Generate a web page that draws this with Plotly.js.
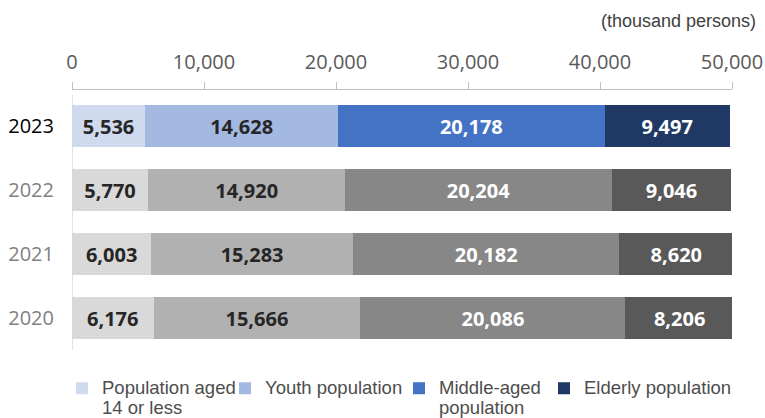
<!DOCTYPE html>
<html><head><meta charset="utf-8">
<script src="https://cdn.plot.ly/plotly-3.0.1.min.js"></script>
<style>html,body{margin:0;padding:0;background:#fff}</style>
</head><body><div id="chart" style="width:765px;height:418px"></div>
<script>
// ---- data ----
const years = ['2023', '2022', '2021', '2020'];
const seriesNames = ['Population aged<br>14 or less', 'Youth population', 'Middle-aged<br>population', 'Elderly population'];
const aged14OrLess = [5536, 5770, 6003, 6176];
const youthPop = [14628, 14920, 15283, 15666];
const middleAgedPop = [20178, 20204, 20182, 20086];
const elderlyPop = [9497, 9046, 8620, 8206];
const xTickValues = [0, 10000, 20000, 30000, 40000, 50000];
const unitLabel = '(thousand persons)';

// ---- styles ----
const highlightColors = ['#cfdaef', '#a3b9e1', '#4472c4', '#1f3864'];
const grayColors = ['#d9d9d9', '#b1b1b1', '#878787', '#595959'];
const textColors = ['#262626', '#262626', '#ffffff', '#ffffff'];
const yearColors = {'2023': '#000000'};
const legendTextStart = [103, 266, 440, 585];
const legendIds = ['legend', 'legend2', 'legend3', 'legend4'];
const seriesValues = [aged14OrLess, youthPop, middleAgedPop, elderlyPop];

const traces = seriesValues.map((vals, i) => ({
  type: 'bar',
  orientation: 'h',
  y: years,
  x: vals,
  legend: legendIds[i],
  name: seriesNames[i].split('<br>').map(s => '<span style="font-size:18.5px">' + s + '</span>').join('<br>'),
  marker: {color: years.map(y => y === '2023' ? highlightColors[i] : grayColors[i]), line: {width: 0}},
  texttemplate: '%{x:,}',
  textposition: 'inside',
  insidetextanchor: 'middle',
  constraintext: 'none',
  textfont: {family: 'Open Sans', size: 20, weight: 700, color: textColors[i]},
  hoverinfo: 'skip'
}));

const layout = {
  width: 765, height: 418,
  margin: {l: 72, r: 33, t: 90, b: 68},
  paper_bgcolor: '#ffffff', plot_bgcolor: '#ffffff',
  barmode: 'stack',
  bargap: 0.34,
  showlegend: true,
  xaxis: {
    side: 'top', range: [0, 50000], fixedrange: true,
    tickvals: xTickValues, tickformat: ',d',
    ticks: 'outside', ticklen: 7, tickcolor: '#bfbfbf', tickwidth: 1,
    showline: true, linecolor: '#bfbfbf', linewidth: 1,
    showgrid: false, zeroline: false,
    ticklabelstandoff: 5,
    tickfont: {family: 'Open Sans', size: 20, color: '#595959'}
  },
  yaxis: {
    type: 'category', range: [3.5, -0.5625], fixedrange: true,
    tickvals: years,
    ticktext: years.map(y => '<span style="color:' + (yearColors[y] || '#808080') + '">' + y + '</span>'),
    ticks: '', showline: false, showgrid: false, zeroline: false,
    ticklabelstandoff: 17,
    tickfont: {family: 'Open Sans', size: 20, color: '#808080'}
  },
  shapes: [{
    type: 'line', xref: 'x', yref: 'paper', x0: 0, x1: 0, y0: 0, y1: (350 - 95) / 260,
    line: {color: '#d9d9d9', width: 1.5}, layer: 'below'
  }],
  annotations: [{
    text: unitLabel, xref: 'paper', yref: 'paper',
    x: (758 - 72) / 660, xanchor: 'right', y: (350 - 21) / 260, yanchor: 'middle',
    showarrow: false,
    font: {family: 'Liberation Sans, Arial, sans-serif', size: 18, color: '#404040'}
  }]
};

legendIds.forEach((id, i) => {
  layout[id] = {
    orientation: 'h', traceorder: 'normal',
    xref: 'container', yref: 'container',
    x: (legendTextStart[i] - 41) / 765, xanchor: 'left', y: 1 - 372 / 418, yanchor: 'top',
    valign: 'top',
    font: {family: 'Liberation Sans, Arial, sans-serif', size: 15, color: '#4d4d4d'},
    bgcolor: 'rgba(0,0,0,0)'
  };
});

Plotly.newPlot('chart', traces, layout, {displayModeBar: false, staticPlot: true});
</script>
</body></html>
